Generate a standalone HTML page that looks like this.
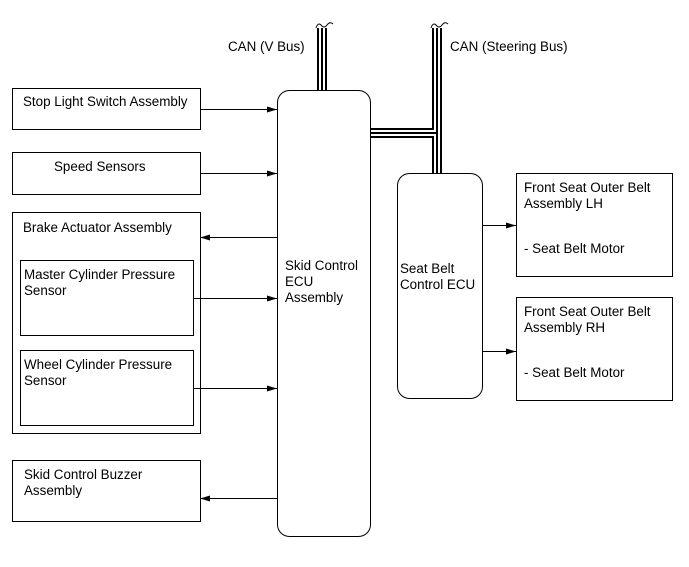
<!DOCTYPE html>
<html><head><style>
body{margin:0;background:#fff}
svg text{font-family:"Liberation Sans",sans-serif;font-size:13.4px;fill:#000}
</style></head><body>
<svg width="689" height="562" xmlns="http://www.w3.org/2000/svg">
<defs><marker id="a" markerWidth="10" markerHeight="6" refX="10" refY="3" orient="auto" markerUnits="userSpaceOnUse"><path d="M0,0 L10,3 L0,6z" fill="#000"/></marker></defs>
<g fill="none" stroke="#000" stroke-width="1">
<rect x="12.5" y="88.5" width="188" height="41"/>
<rect x="12.5" y="152.5" width="188" height="42"/>
<rect x="12.5" y="212.5" width="188" height="221"/>
<rect x="20.5" y="260.5" width="173" height="75"/>
<rect x="20.5" y="350.5" width="173" height="75"/>
<rect x="12.5" y="460.5" width="188" height="61"/>
<rect x="516.5" y="173.5" width="156" height="103"/>
<rect x="516.5" y="297.5" width="156" height="103"/>
<rect x="277.5" y="90.5" width="93" height="446" rx="12"/>
<rect x="397.5" y="173.5" width="85" height="225" rx="12"/>
<line x1="200" y1="109.5" x2="277" y2="109.5" marker-end="url(#a)"/>
<line x1="200" y1="173.5" x2="277" y2="173.5" marker-end="url(#a)"/>
<line x1="277" y1="237.5" x2="200" y2="237.5" marker-end="url(#a)"/>
<line x1="193" y1="298.5" x2="277" y2="298.5" marker-end="url(#a)"/>
<line x1="193" y1="388.5" x2="277" y2="388.5" marker-end="url(#a)"/>
<line x1="277" y1="498.5" x2="200" y2="498.5" marker-end="url(#a)"/>
<line x1="482" y1="225.5" x2="516" y2="225.5" marker-end="url(#a)"/>
<line x1="482" y1="351.5" x2="516" y2="351.5" marker-end="url(#a)"/>
</g>
<g fill="none" stroke-linejoin="miter">
<path d="M322,28 V90" stroke="#000" stroke-width="10"/>
<path d="M322,28 V90" stroke="#fff" stroke-width="6"/>
<path d="M322,28 V90" stroke="#000" stroke-width="2"/>
<path d="M437,28 V173 M371,133 H437" stroke="#000" stroke-width="10"/>
<path d="M437,28 V173 M371,133 H437" stroke="#fff" stroke-width="6"/>
<path d="M437,28 V173 M371,133 H437" stroke="#000" stroke-width="2"/>
<path d="M316,28 q2,-6 5,-3 q3,4 6,0 q3,-4 6,-1" stroke="#000" stroke-width="1"/>
<path d="M431,28 q2,-6 5,-3 q3,4 6,0 q3,-4 6,-1" stroke="#000" stroke-width="1"/>
</g>
<text x="228" y="51">CAN (V Bus)</text>
<text x="450" y="51">CAN (Steering Bus)</text>
<text x="23" y="106">Stop Light Switch Assembly</text>
<text x="54" y="171">Speed Sensors</text>
<text x="23" y="232">Brake Actuator Assembly</text>
<text x="24" y="279">Master Cylinder Pressure</text>
<text x="24" y="295">Sensor</text>
<text x="24" y="369">Wheel Cylinder Pressure</text>
<text x="24" y="385">Sensor</text>
<text x="24" y="479">Skid Control Buzzer</text>
<text x="24" y="495">Assembly</text>
<text x="285" y="270">Skid Control</text>
<text x="285" y="286">ECU</text>
<text x="285" y="302">Assembly</text>
<text x="400" y="273">Seat Belt</text>
<text x="400" y="289">Control ECU</text>
<text x="524" y="192">Front Seat Outer Belt</text>
<text x="524" y="208">Assembly LH</text>
<text x="524" y="253">- Seat Belt Motor</text>
<text x="524" y="316">Front Seat Outer Belt</text>
<text x="524" y="332">Assembly RH</text>
<text x="524" y="377">- Seat Belt Motor</text>
</svg>
</body></html>
